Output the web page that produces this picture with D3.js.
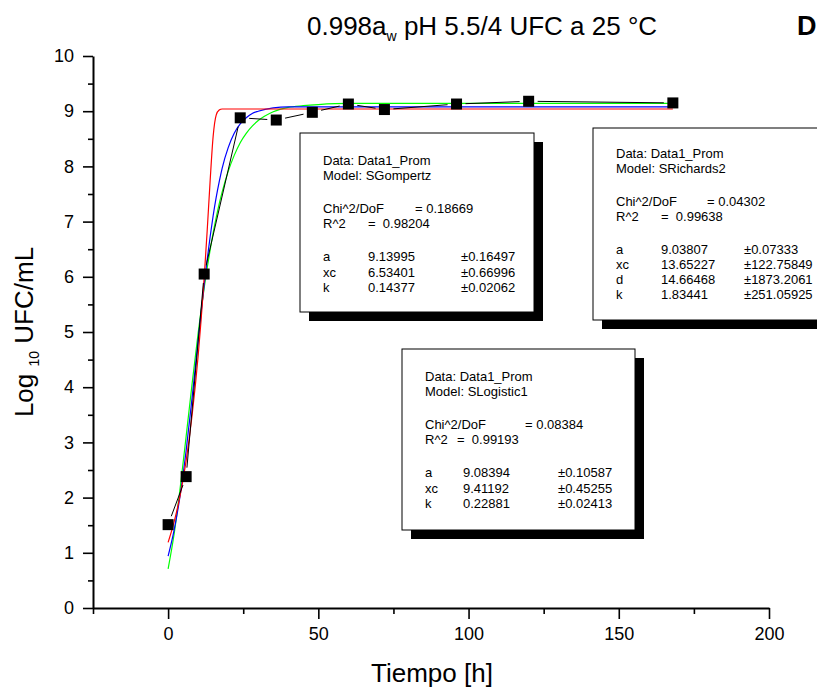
<!DOCTYPE html>
<html>
<head>
<meta charset="utf-8">
<script src="https://cdn.jsdelivr.net/npm/d3@7"></script>
<style>
  body { margin: 0; background: #fff; }
  svg { display: block; font-family: Arial, "Liberation Sans", sans-serif; }
  .axis path, .axis line { stroke: #000; }
  .axis text { font-size: 18px; fill: #000; font-family: Arial, "Liberation Sans", sans-serif; }
  .box text { fill: #000; white-space: pre; }
</style>
</head>
<body>
<div id="chart"></div>
<script>
// measured points (time in h, log10 UFC/mL)
var tiempo = [0, 6, 12, 24, 36, 48, 60, 72, 96, 120, 168];
var logUfc = [1.51, 2.38, 6.05, 8.88, 8.84, 8.98, 9.13, 9.03, 9.13, 9.18, 9.15];

// fitted curves
var fitX = [0, 2, 4, 6, 8, 10, 11, 12, 13, 14, 15, 16, 17, 18, 20, 22, 24, 26, 28, 30, 35, 40, 45, 50, 60, 80, 100, 130, 168];
var gompertz = [0.71, 1.34, 2.17, 3.11, 4.07, 4.98, 5.40, 5.80, 6.16, 6.49, 6.80, 7.07, 7.32, 7.54, 7.91, 8.20, 8.43, 8.60, 8.73, 8.83, 8.99, 9.07, 9.10, 9.12, 9.14, 9.14, 9.14, 9.14, 9.14];
var logistic = [0.94, 1.41, 2.04, 2.85, 3.82, 4.85, 5.36, 5.85, 6.31, 6.73, 7.11, 7.44, 7.72, 7.97, 8.34, 8.60, 8.77, 8.88, 8.96, 9.00, 9.06, 9.08, 9.08, 9.08, 9.08, 9.08, 9.08, 9.08, 9.08];
var richards = [1.19, 1.56, 2.04, 2.67, 3.50, 4.57, 5.23, 5.98, 6.83, 7.75, 8.55, 8.93, 9.02, 9.04, 9.04, 9.04, 9.04, 9.04, 9.04, 9.04, 9.04, 9.04, 9.04, 9.04, 9.04, 9.04, 9.04, 9.04, 9.04];

var xTicks = [0, 50, 100, 150, 200];
var xMinor = [-25, 25, 75, 125, 175];
var yTicks = [0, 1, 2, 3, 4, 5, 6, 7, 8, 9, 10];
var yMinor = [0.5, 1.5, 2.5, 3.5, 4.5, 5.5, 6.5, 7.5, 8.5, 9.5];

// fit report boxes
var gompertzBox = [["Data: Data1_Prom"], ["Model: SGompertz"], ["Chi^2/DoF", "= 0.18669"], ["R^2", "=  0.98204"],
  ["a", "9.13995", "\u00b10.16497"], ["xc", "6.53401", "\u00b10.66996"], ["k", "0.14377", "\u00b10.02062"]];
var richardsBox = [["Data: Data1_Prom"], ["Model: SRichards2"], ["Chi^2/DoF", "= 0.04302"], ["R^2", "=  0.99638"],
  ["a", "9.03807", "\u00b10.07333"], ["xc", "13.65227", "\u00b1122.75849"], ["d", "14.66468", "\u00b11873.2061"], ["k", "1.83441", "\u00b1251.05925"]];
var logisticBox = [["Data: Data1_Prom"], ["Model: SLogistic1"], ["Chi^2/DoF", "= 0.08384"], ["R^2", "=  0.99193"],
  ["a", "9.08394", "\u00b10.10587"], ["xc", "9.41192", "\u00b10.45255"], ["k", "0.22881", "\u00b10.02413"]];

var W = 817, H = 691;
var svg = d3.select("#chart").append("svg")
    .attr("width", W)
    .attr("height", H);

var x = d3.scaleLinear().domain([-25, 200]).range([93, 769]);
var y = d3.scaleLinear().domain([0, 10]).range([608, 56]);

// axes: minor ticks first, then major ticks with labels
var gx = svg.append("g").attr("class", "axis")
    .attr("transform", "translate(0," + y(0) + ")")
    .call(d3.axisBottom(x).tickValues(xMinor).tickSize(6).tickSizeOuter(0).tickFormat(""));
gx.select(".domain").remove();
var gx2 = svg.append("g").attr("class", "axis")
    .attr("transform", "translate(0," + y(0) + ")")
    .call(d3.axisBottom(x).tickValues(xTicks).tickSize(11).tickSizeOuter(0).tickPadding(8));
gx2.select(".domain").attr("stroke-width", 2);

var gy = svg.append("g").attr("class", "axis")
    .attr("transform", "translate(" + x(-25) + ",0)")
    .call(d3.axisLeft(y).tickValues(yMinor).tickSize(5).tickSizeOuter(0).tickFormat(""));
gy.select(".domain").remove();
var gy2 = svg.append("g").attr("class", "axis")
    .attr("transform", "translate(" + x(-25) + ",0)")
    .call(d3.axisLeft(y).tickValues(yTicks).tickSize(10).tickSizeOuter(0).tickPadding(9));
gy2.select(".domain").attr("stroke-width", 2);
svg.selectAll(".axis line").attr("stroke-width", 1.6);

// fitted curves
var line = d3.line()
    .x(function(d) { return x(d[0]); })
    .y(function(d) { return y(d[1]); })
    .curve(d3.curveMonotoneX);

[[gompertz, "#00ff00"], [logistic, "#0000ff"], [richards, "#ff0000"]].forEach(function(c) {
  svg.append("path")
      .datum(fitX.map(function(v, i) { return [v, c[0][i]]; }))
      .attr("fill", "none")
      .attr("stroke", c[1])
      .attr("stroke-width", 1.2)
      .attr("d", line);
});

// data line with a gap at each symbol
var gap = 9;
var pts = tiempo.map(function(t, i) { return [x(t), y(logUfc[i])]; });
var segs = svg.append("g");
for (var i = 0; i < pts.length - 1; i++) {
  var p = pts[i], q = pts[i + 1];
  var dx = q[0] - p[0], dy = q[1] - p[1], len = Math.sqrt(dx * dx + dy * dy);
  if (len <= 2 * gap) continue;
  var ux = dx / len, uy = dy / len;
  segs.append("line")
      .attr("x1", p[0] + ux * gap).attr("y1", p[1] + uy * gap)
      .attr("x2", q[0] - ux * gap).attr("y2", q[1] - uy * gap)
      .attr("stroke", "#000")
      .attr("stroke-width", 1);
}

svg.append("g").selectAll("rect")
    .data(tiempo)
    .enter().append("rect")
      .attr("x", function(d) { return x(d) - 5.5; })
      .attr("y", function(d, i) { return y(logUfc[i]) - 5.5; })
      .attr("width", 11)
      .attr("height", 11)
      .attr("fill", "#000");

// report boxes
// o: { x, y, w, h, rows (baseline offsets), cols [label, value, error], eq [chi "=", R "="] }
function drawBox(rows, o) {
  var g = svg.append("g").attr("class", "box").style("font-size", "13px");
  g.append("rect")
      .attr("x", o.x + 9).attr("y", o.y + 9)
      .attr("width", o.w).attr("height", o.h)
      .attr("fill", "#000");
  g.append("rect")
      .attr("x", o.x).attr("y", o.y)
      .attr("width", o.w).attr("height", o.h)
      .attr("fill", "#fff")
      .attr("stroke", "#000")
      .attr("stroke-width", 1);
  rows.forEach(function(r, i) {
    var yy = o.y + o.rows[i];
    g.append("text").attr("x", o.x + o.cols[0]).attr("y", yy).text(r[0]);
    if (r.length === 2) {
      g.append("text").attr("x", o.x + (i === 2 ? o.eq[0] : o.eq[1])).attr("y", yy)
          .attr("xml:space", "preserve").text(r[1]);
    } else if (r.length === 3) {
      g.append("text").attr("x", o.x + o.cols[1]).attr("y", yy).text(r[1]);
      g.append("text").attr("x", o.x + o.cols[2]).attr("y", yy).text(r[2]);
    }
  });
}

drawBox(gompertzBox, { x: 300, y: 133, w: 234, h: 179,
  rows: [32, 47, 80, 95, 128, 144, 159], cols: [23, 68, 161], eq: [115, 68] });
drawBox(richardsBox, { x: 593, y: 128, w: 250, h: 192,
  rows: [30, 45, 78, 93, 126, 141, 156, 171], cols: [23, 68, 151], eq: [114, 68] });
drawBox(logisticBox, { x: 402, y: 349, w: 233, h: 181,
  rows: [32, 47, 80, 95, 128, 144, 159], cols: [23, 61, 156], eq: [123, 55] });

// title and labels
var title = svg.append("text")
    .attr("x", 307).attr("y", 35)
    .style("font-size", "26px");
title.append("tspan").text("0.998a");
title.append("tspan").attr("dy", 6).style("font-size", "14px").text("w");
title.append("tspan").attr("dy", -6).text(" pH 5.5/4 UFC a 25 \u00b0C");

svg.append("text")
    .attr("x", 797).attr("y", 35)
    .style("font-size", "27px")
    .style("font-weight", "bold")
    .text("D");

svg.append("text")
    .attr("x", 432).attr("y", 682)
    .attr("text-anchor", "middle")
    .style("font-size", "26px")
    .text("Tiempo [h]");

var ylab = svg.append("text")
    .attr("transform", "translate(33," + y(5) + ") rotate(-90)")
    .attr("text-anchor", "middle")
    .style("font-size", "26px");
ylab.append("tspan").text("Log ");
ylab.append("tspan").attr("dy", 6).style("font-size", "14px").text("10");
ylab.append("tspan").attr("dy", -6).text(" UFC/mL");
</script>
</body>
</html>
